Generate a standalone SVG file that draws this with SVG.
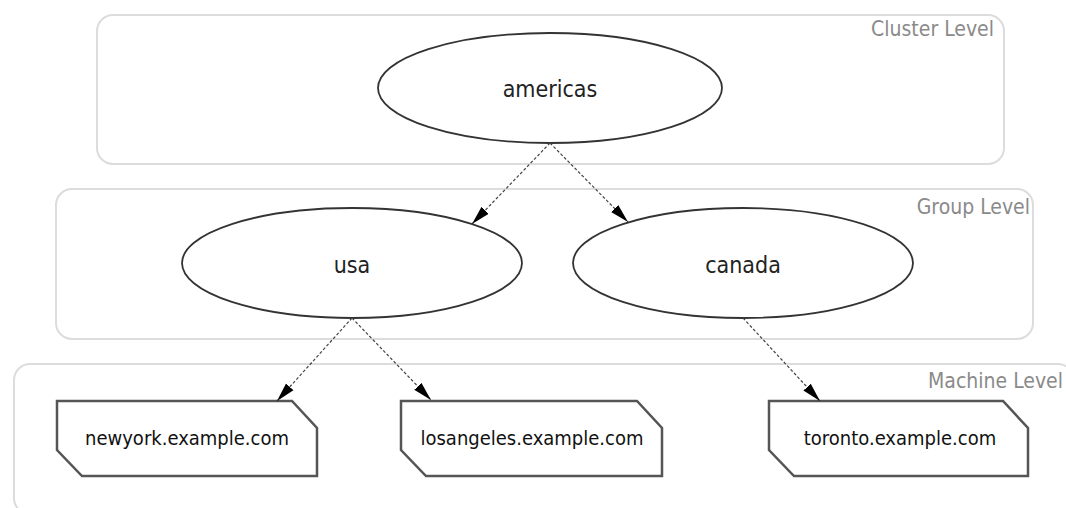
<svg xmlns="http://www.w3.org/2000/svg" width="1066" height="508" viewBox="0 0 1066 508">
<defs>
<style>
.lvl{fill:#fff;stroke:#dcdcdc;stroke-width:2}
.lvlt{font-family:"DejaVu Sans Condensed","DejaVu Sans",sans-serif;font-stretch:condensed;font-size:21px;fill:#8a8a8a;text-anchor:end}
.ell{fill:#fff;stroke:#333;stroke-width:1.8}
.et{font-family:"DejaVu Sans Condensed","DejaVu Sans",sans-serif;font-stretch:condensed;font-size:23px;fill:#222;text-anchor:middle}
.mach{fill:#fff;stroke:#555;stroke-width:2.5;stroke-linejoin:miter}
.mt{font-family:"DejaVu Sans Condensed","DejaVu Sans",sans-serif;font-stretch:condensed;font-size:20px;fill:#111;text-anchor:middle}
.edge{fill:none;stroke:#444;stroke-width:1.2;stroke-dasharray:3 2;marker-end:url(#arr)}
</style>
<marker id="arr" markerUnits="userSpaceOnUse" markerWidth="20" markerHeight="12" refX="19" refY="6" orient="auto">
<path d="M0,1 L19,6 L0,11 z" fill="#000"/>
</marker>
</defs>
<rect width="1066" height="508" fill="#fff"/>
<g id="cluster-level">
<rect class="lvl" x="97" y="15" width="907" height="149" rx="16"/>
<text class="lvlt" x="994" y="36">Cluster Level</text>
</g>
<g id="group-level">
<rect class="lvl" x="56" y="189" width="977" height="150" rx="16"/>
<text class="lvlt" x="1030" y="214">Group Level</text>
</g>
<g id="machine-level">
<rect class="lvl" x="14" y="364" width="1060" height="150" rx="16"/>
<text class="lvlt" x="1063" y="388">Machine Level</text>
</g>
<g id="americas">
<ellipse class="ell" cx="550" cy="88" rx="172" ry="55"/>
<text class="et" x="550" y="97">americas</text>
</g>
<g id="usa">
<ellipse class="ell" cx="352" cy="263" rx="170" ry="55"/>
<text class="et" x="352" y="273">usa</text>
</g>
<g id="canada">
<ellipse class="ell" cx="743" cy="263" rx="170" ry="55"/>
<text class="et" x="743" y="273">canada</text>
</g>
<g id="newyork">
<path class="mach" d="M57,401 L292,401 L317,428 L317,476 L82,476 L57,450 Z"/>
<text class="mt" x="187" y="445">newyork.example.com</text>
</g>
<g id="losangeles">
<path class="mach" d="M401,401 L637,401 L662,428 L662,476 L426,476 L401,450 Z"/>
<text class="mt" x="532" y="445">losangeles.example.com</text>
</g>
<g id="toronto">
<path class="mach" d="M769,401 L1003,401 L1028,428 L1028,476 L794,476 L769,450 Z"/>
<text class="mt" x="900" y="445">toronto.example.com</text>
</g>
<g id="connectors">
<line class="edge" x1="550" y1="143" x2="472" y2="224"/>
<line class="edge" x1="550" y1="143" x2="628" y2="222"/>
<line class="edge" x1="352" y1="318" x2="277" y2="401"/>
<line class="edge" x1="352" y1="318" x2="431" y2="400"/>
<line class="edge" x1="743" y1="318" x2="820" y2="401"/>
</g>
</svg>
